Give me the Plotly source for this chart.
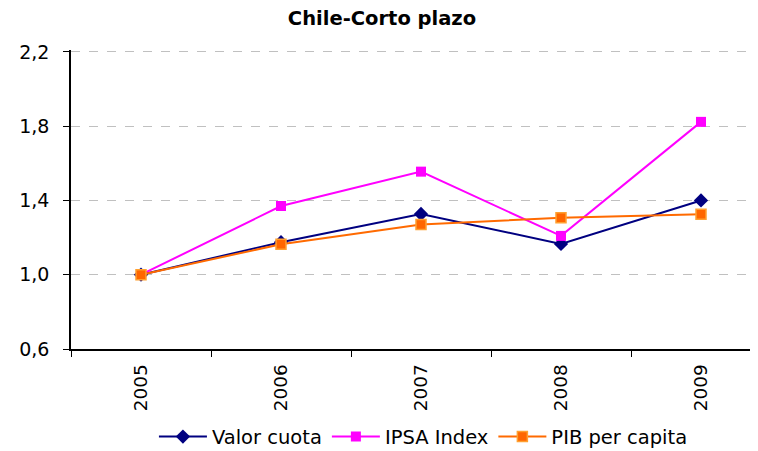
import plotly.graph_objects as go

years = ["2005", "2006", "2007", "2008", "2009"]
valor_cuota = [1.00, 1.175, 1.327, 1.166, 1.40]
ipsa_index = [1.00, 1.37, 1.555, 1.209, 1.823]
pib_per_capita = [1.00, 1.164, 1.271, 1.307, 1.325]
y_ticks = [0.6, 1.0, 1.4, 1.8, 2.2]

FONT = "DejaVu Sans"

fig = go.Figure()
fig.add_trace(go.Scatter(
    x=years, y=valor_cuota, name="Valor cuota", mode="lines+markers",
    line=dict(color="#000080", width=2),
    marker=dict(symbol="diamond", size=11, color="#000080"),
))
fig.add_trace(go.Scatter(
    x=years, y=ipsa_index, name="IPSA Index", mode="lines+markers",
    line=dict(color="#ff00ff", width=2),
    marker=dict(symbol="square", size=10, color="#ff00ff"),
))
fig.add_trace(go.Scatter(
    x=years, y=pib_per_capita, name="PIB per capita", mode="lines+markers",
    line=dict(color="#ff6a00", width=2),
    marker=dict(symbol="square", size=10, color="#ff6600",
                line=dict(color="#ffa030", width=1.5)),
))

# page body has an 8px default margin, so the figure is placed at (8, 8)
fig.update_layout(
    width=750, height=443,
    margin=dict(l=63, r=0, t=42, b=102, autoexpand=False),
    paper_bgcolor="white", plot_bgcolor="white",
    separators=",.",
    font=dict(family=FONT, size=19, color="black"),
    title=dict(text="<b>Chile-Corto plazo</b>", x=374 / 750, xanchor="center",
               y=1 - 10 / 443, yanchor="middle",
               font=dict(family=FONT, size=19.5, color="black")),
    showlegend=True,
    legend=dict(orientation="h", x=0.513, xanchor="center", y=-0.294,
                yanchor="middle", font=dict(family=FONT, size=19.5),
                itemwidth=48, tracegroupgap=0, bgcolor="rgba(0,0,0,0)"),
)
fig.update_xaxes(
    type="category", range=[-0.5, -0.5 + 687 / 140], automargin=False,
    showline=True, linecolor="black", linewidth=1.5,
    ticks="outside", tickson="boundaries", ticklen=6, tickcolor="black",
    tickangle=-90, showgrid=False, tickfont=dict(family=FONT, size=18.5),
    ticklabelstandoff=6,
)
fig.update_yaxes(
    range=[0.6, 2.21], tickvals=y_ticks, tickformat=".1f", automargin=False,
    showline=True, linecolor="black", linewidth=1.5,
    ticks="outside", ticklen=6, tickcolor="black",
    showgrid=True, gridcolor="#c0c0c0", griddash="dash", gridwidth=1,
    zeroline=False, tickfont=dict(family=FONT, size=19),
    ticklabelstandoff=10,
)

fig.write_html("out.html")
